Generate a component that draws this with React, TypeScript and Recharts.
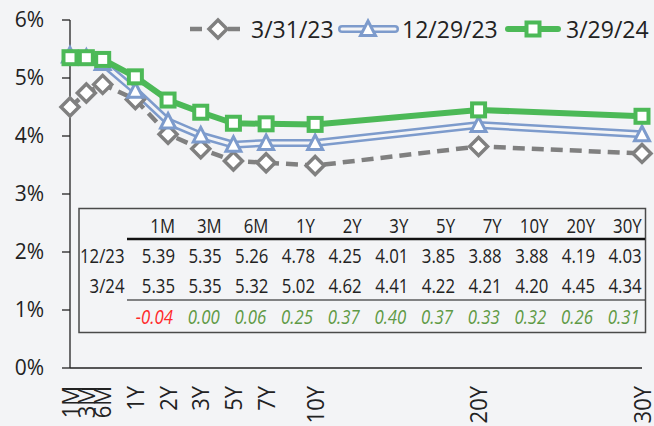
import React from 'react';
import { LineChart, Line, XAxis, YAxis } from 'recharts';

// tenors and where they sit on the (uneven) maturity axis
const tenors = ['1M', '3M', '6M', '1Y', '2Y', '3Y', '5Y', '7Y', '10Y', '20Y', '30Y'];
const tenorPos = [0, 0.5, 1, 2, 3, 4, 5, 6, 7.5, 12.5, 17.5];

// yields in %
const yld0323 = [4.5, 4.74, 4.89, 4.63, 4.03, 3.78, 3.57, 3.54, 3.49, 3.82, 3.7];
const yld1223 = [5.39, 5.35, 5.26, 4.78, 4.25, 4.01, 3.85, 3.88, 3.88, 4.19, 4.03];
const yld0324 = [5.35, 5.35, 5.32, 5.02, 4.62, 4.41, 4.22, 4.21, 4.2, 4.45, 4.34];
const chg = [-0.04, 0.0, 0.06, 0.25, 0.37, 0.4, 0.37, 0.33, 0.32, 0.26, 0.31];

const seriesNames = ['3/31/23', '12/29/23', '3/29/24'];
const rowLabels = ['12/23', '3/24'];
const yTicks = [0, 1, 2, 3, 4, 5, 6];

const BG = '#f3f4f6';
const GREY = '#808080';
const BLUE = '#7d9bcc';
const GREEN = '#4cb957';
const INK = '#222222';

const data = tenors.map((t, i) => ({
  tenor: t,
  pos: tenorPos[i],
  a: yld0323[i],
  b: yld1223[i],
  c: yld0324[i],
}));

const diamond = (cx: number, cy: number, k?: string) => (
  <polygon
    key={k}
    points={`${cx},${cy - 9} ${cx + 9},${cy} ${cx},${cy + 9} ${cx - 9},${cy}`}
    fill="#fff"
    stroke={GREY}
    strokeWidth={3.5}
  />
);
const triangle = (cx: number, cy: number, k?: string) => (
  <polygon
    key={k}
    points={`${cx},${cy - 8} ${cx + 7.5},${cy + 6.5} ${cx - 7.5},${cy + 6.5}`}
    fill="#fff"
    stroke={BLUE}
    strokeWidth={3}
    strokeLinejoin="miter"
  />
);
const square = (cx: number, cy: number, k?: string) => (
  <rect key={k} x={cx - 6.5} y={cy - 6.5} width={13} height={13} fill="#fff" stroke={GREEN} strokeWidth={4} />
);

const dotFn = (shape: (cx: number, cy: number, k?: string) => React.ReactElement, tag: string) => (p: any) => {
  if (p.cx == null || p.cy == null) return <g key={`${tag}-${p.index}`} />;
  return shape(p.cx, p.cy, `${tag}-${p.index}`);
};

const XTick = (props: any) => {
  const { x, y, payload } = props;
  const label = tenors[tenorPos.indexOf(payload.value)] ?? '';
  return (
    <text
      transform={`translate(${x + 8.5}, ${y + 18}) rotate(-90) scale(1 1.1)`}
      textAnchor="end"
      fontSize={22}
      fill={INK}
    >
      {label}
    </text>
  );
};

// narrow text used in the inset table
const TT = ({ x, y, children, fill = INK, italic = false }: any) => (
  <text
    transform={`translate(${x}, ${y}) scale(0.84 1)`}
    textAnchor="end"
    fontSize={20}
    fill={fill}
    fontStyle={italic ? 'italic' : 'normal'}
  >
    {children}
  </text>
);

const colRight = (i: number) => 175 + i * 46.67;

const Overlay = () => (
  <svg width={654} height={426} style={{ position: 'absolute', left: 0, top: 0, pointerEvents: 'none' }}>
    {/* legend */}
    <g>
      <line x1={190} y1={29} x2={246} y2={29} stroke={GREY} strokeWidth={4.5} strokeDasharray="12 7" />
      {diamond(218, 29)}
      <text x={251} y={29} dominantBaseline="central" fontSize={23} fill={INK}>{seriesNames[0]}</text>

      <line x1={342} y1={29} x2={395} y2={29} stroke={BLUE} strokeWidth={8} strokeLinecap="round" />
      <line x1={342} y1={29} x2={395} y2={29} stroke={BG} strokeWidth={3} strokeLinecap="round" />
      {triangle(368, 29)}
      <text x={402} y={29} dominantBaseline="central" fontSize={23} fill={INK}>{seriesNames[1]}</text>

      <line x1={508} y1={29} x2={558} y2={29} stroke={GREEN} strokeWidth={6} strokeLinecap="round" />
      {square(533, 29)}
      <text x={566} y={29} dominantBaseline="central" fontSize={23} fill={INK}>{seriesNames[2]}</text>
    </g>

    {/* inset table */}
    <rect x={79} y={208.5} width={566.5} height={124} fill={BG} stroke="#4a4a4a" strokeWidth={1.5} />
    <line x1={127} y1={239} x2={645} y2={239} stroke="#111" strokeWidth={2.5} />
    <line x1={127} y1={300} x2={645} y2={300} stroke="#111" strokeWidth={1.2} />
    {tenors.map((t, i) => (
      <TT key={`h-${t}`} x={colRight(i)} y={233}>{t}</TT>
    ))}
    <TT x={124.5} y={262.5}>{rowLabels[0]}</TT>
    <TT x={124.5} y={293}>{rowLabels[1]}</TT>
    {yld1223.map((v, i) => (
      <TT key={`r1-${i}`} x={colRight(i)} y={262.5}>{v.toFixed(2)}</TT>
    ))}
    {yld0324.map((v, i) => (
      <TT key={`r2-${i}`} x={colRight(i)} y={293}>{v.toFixed(2)}</TT>
    ))}
    {chg.map((v, i) => (
      <TT key={`d-${i}`} x={colRight(i) - 2} y={324} italic fill={v < 0 ? '#ff2a2a' : '#5f9a45'}>
        {v.toFixed(2)}
      </TT>
    ))}
  </svg>
);

export default function App() {
  return (
    <div
      style={{
        position: 'relative',
        width: 654,
        height: 426,
        background: BG,
        fontFamily: "'Open Sans', sans-serif",
      }}
    >
      <style>{`body{margin:0;background:${BG};}`}</style>
      <LineChart width={654} height={426} data={data} margin={{ top: 20, right: 12, bottom: 0, left: 0 }}>
        <XAxis
          dataKey="pos"
          type="number"
          domain={[0, 17.5]}
          ticks={tenorPos}
          interval={0}
          tickLine={false}
          tickSize={0}
          tickMargin={0}
          height={58}
          tick={<XTick />}
          axisLine={{ stroke: INK, strokeWidth: 1.3 }}
        />
        <YAxis
          type="number"
          domain={[0, 6]}
          ticks={yTicks}
          width={70}
          tickSize={8}
          tickMargin={18}
          tickFormatter={(v) => `${v}%`}
          tick={{ fontSize: 21, fill: INK }}
          tickLine={{ stroke: INK, strokeWidth: 1.3 }}
          axisLine={{ stroke: INK, strokeWidth: 1.3 }}
        />
        <Line
          dataKey="a"
          name={seriesNames[0]}
          stroke={GREY}
          strokeWidth={4.5}
          strokeDasharray="12 7"
          type="linear"
          dot={dotFn(diamond, 'a')}
          isAnimationActive={false}
        />
        <Line dataKey="b" name={seriesNames[1]} stroke={BLUE} strokeWidth={8} type="linear" dot={false} isAnimationActive={false} />
        <Line
          dataKey="b"
          name={seriesNames[1] + ' inner'}
          stroke={BG}
          strokeWidth={3}
          type="linear"
          dot={dotFn(triangle, 'b')}
          isAnimationActive={false}
        />
        <Line
          dataKey="c"
          name={seriesNames[2]}
          stroke={GREEN}
          strokeWidth={6}
          type="linear"
          dot={dotFn(square, 'c')}
          isAnimationActive={false}
        />
      </LineChart>
      <Overlay />
    </div>
  );
}
